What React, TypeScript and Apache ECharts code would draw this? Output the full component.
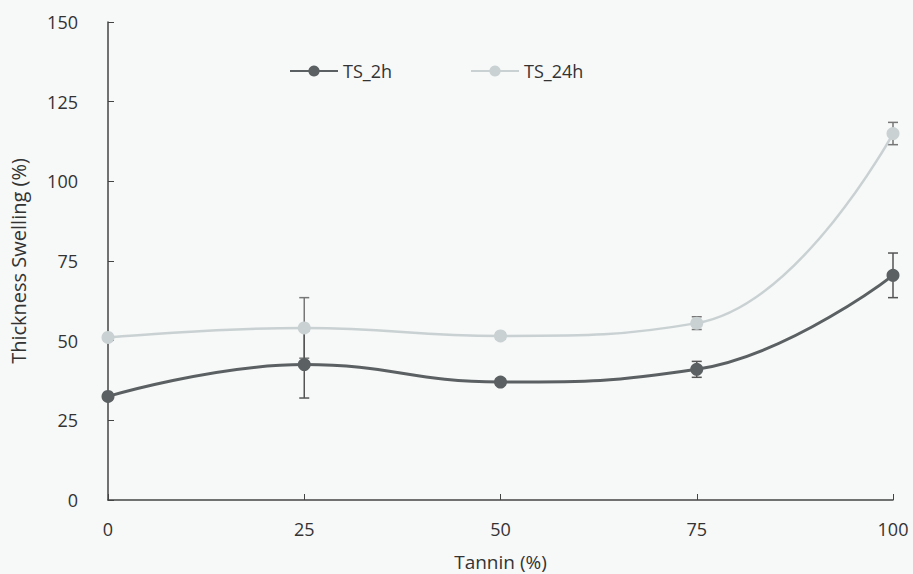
import React, { useEffect, useRef } from "react";
import * as echarts from "echarts";

const tannin = [0, 25, 50, 75, 100];
const ts2h = [32.5, 42.5, 37, 41, 70.5];
const ts2hErr = [1, 10.5, 1, 2.5, 7];
const ts24h = [51, 54, 51.5, 55.5, 115];
const ts24hErr = [1, 9.5, 1, 2, 3.5];

const DARK = "#5b6062";
const LIGHT = "#c9d1d2";

function errSeries(name: string, vals: number[], errs: number[], color: string, z: number) {
  return {
    type: "custom",
    name: name + "_err",
    z,
    silent: true,
    data: tannin.map((x, i) => [x, vals[i] - errs[i], vals[i] + errs[i]]),
    renderItem: (params: any, api: any) => {
      const x = api.value(0);
      const lo = api.coord([x, api.value(1)]);
      const hi = api.coord([x, api.value(2)]);
      const w = 5;
      const st = { stroke: color, lineWidth: 1.5 };
      return {
        type: "group",
        children: [
          { type: "line", shape: { x1: lo[0], y1: lo[1], x2: hi[0], y2: hi[1] }, style: st },
          { type: "line", shape: { x1: lo[0] - w, y1: lo[1], x2: lo[0] + w, y2: lo[1] }, style: st },
          { type: "line", shape: { x1: hi[0] - w, y1: hi[1], x2: hi[0] + w, y2: hi[1] }, style: st },
        ],
      };
    },
  };
}

export default function App() {
  const ref = useRef<HTMLDivElement>(null);
  useEffect(() => {
    document.body.style.margin = "0";
    document.body.style.background = "#f7f8f8";
    if (!ref.current) return;
    const chart = echarts.init(ref.current, null, { renderer: "svg" });
    const font = "Open Sans";
    chart.setOption({
      animation: false,
      backgroundColor: "#f7f8f8",
      textStyle: { fontFamily: font },
      legend: {
        top: 57,
        left: 284,
        itemGap: 78,
        itemWidth: 48,
        itemHeight: 14,
        textStyle: { fontSize: 18, color: "#333", fontFamily: font },
        data: ["TS_2h", "TS_24h"],
      },
      grid: { left: 108, right: 20, top: 22, bottom: 74, outerBoundsMode: "none", containLabel: false },
      xAxis: {
        type: "value",
        min: 0,
        max: 100,
        interval: 25,
        name: "Tannin (%)",
        nameLocation: "middle",
        nameGap: 52,
        nameTextStyle: { fontSize: 19, color: "#333", fontFamily: font },
        axisLine: { lineStyle: { color: "#444", width: 1.5 } },
        axisTick: { inside: true, length: 6, lineStyle: { color: "#444" } },
        axisLabel: { fontSize: 18, color: "#333", margin: 20, fontFamily: font },
        splitLine: { show: false },
      },
      yAxis: {
        type: "value",
        min: 0,
        max: 150,
        interval: 25,
        name: "Thickness Swelling (%)",
        nameLocation: "middle",
        nameGap: 80,
        nameTextStyle: { fontSize: 20, color: "#333", fontFamily: font },
        axisLine: { show: true, lineStyle: { color: "#444", width: 1.5 } },
        axisTick: { show: true, inside: true, length: 6, lineStyle: { color: "#444" } },
        axisLabel: { fontSize: 18, color: "#333", margin: 30, fontFamily: font },
        splitLine: { show: false },
      },
      series: [
        errSeries("TS_24h", ts24h, ts24hErr, "#777", 1),
        errSeries("TS_2h", ts2h, ts2hErr, "#555", 1),
        {
          name: "TS_24h",
          type: "line",
          smooth: 0.45,
          z: 2,
          data: tannin.map((x, i) => [x, ts24h[i]]),
          symbol: "circle",
          symbolSize: 13,
          lineStyle: { color: LIGHT, width: 2.5 },
          itemStyle: { color: LIGHT },
        },
        {
          name: "TS_2h",
          type: "line",
          smooth: 0.45,
          z: 3,
          data: tannin.map((x, i) => [x, ts2h[i]]),
          symbol: "circle",
          symbolSize: 13,
          lineStyle: { color: DARK, width: 3 },
          itemStyle: { color: DARK },
        },
      ],
    });
    return () => chart.dispose();
  }, []);
  return <div ref={ref} style={{ width: 913, height: 574 }} />;
}
